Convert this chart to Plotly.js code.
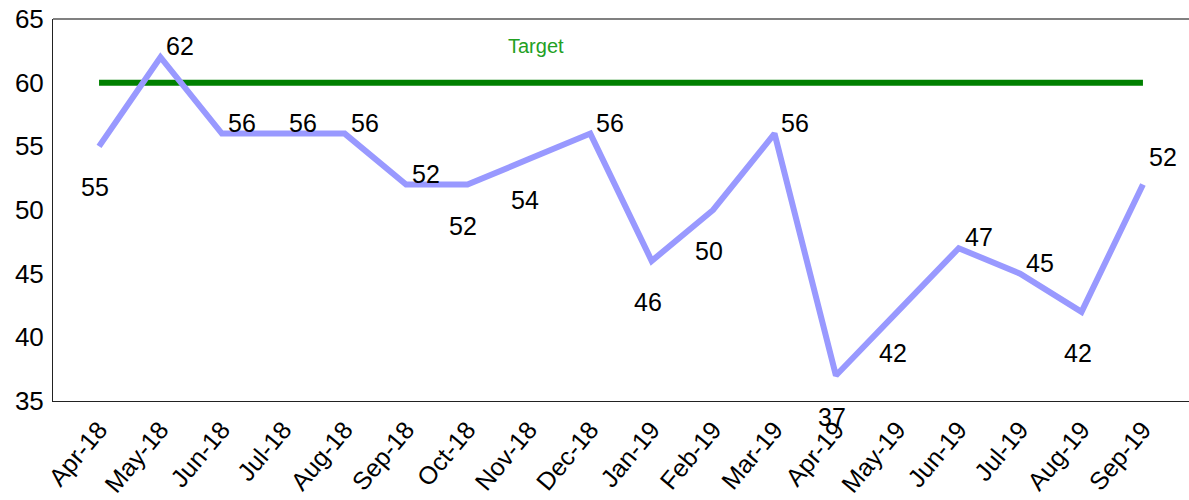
<!DOCTYPE html>
<html><head><meta charset="utf-8">
<script src="https://cdn.plot.ly/plotly-3.0.1.min.js"></script>
<style>html,body{margin:0;padding:0;background:#fff}#chart{width:1189px;height:500px}</style>
</head><body><div id="chart"></div>
<script>
const months = ['Apr-18','May-18','Jun-18','Jul-18','Aug-18','Sep-18','Oct-18','Nov-18','Dec-18','Jan-19','Feb-19','Mar-19','Apr-19','May-19','Jun-19','Jul-19','Aug-19','Sep-19'];
const scores = [55,62,56,56,56,52,52,54,56,46,50,56,37,42,47,45,42,52];
const target = [60,60,60,60,60,60,60,60,60,60,60,60,60,60,60,60,60,60];
const labelPos = ['b','a','a','a','a','a','b','b','a','b','b','a','b','b','a','a','b','a'];
const targetLabel = 'Target';

const font = 'Arial, "Liberation Sans", sans-serif';
const idx = months.map((_, i) => i);

const annotations = scores.map((v, i) => {
  const above = labelPos[i] === 'a';
  return {
    x: idx[i], y: v, xref: 'x', yref: 'y', text: String(v), showarrow: false,
    font: {family: font, size: 25, color: '#000'},
    xshift: above ? 20 : -4,
    yshift: above ? (i === 17 ? 28 : 11) : -41
  };
});
annotations.push({
  x: 7.12, y: 62.9, xref: 'x', yref: 'y', text: targetLabel, showarrow: false,
  font: {family: font, size: 20, color: '#22a022'}
});

const traces = [
  {x: idx, y: target, type: 'scatter', mode: 'lines', line: {color: '#008000', width: 6}, hoverinfo: 'skip'},
  {x: idx, y: scores, type: 'scatter', mode: 'lines', line: {color: '#9999FF', width: 6}, hoverinfo: 'skip'}
];

const layout = {
  width: 1189, height: 500,
  margin: {l: 53, r: 0, t: 19, b: 99},
  paper_bgcolor: '#fff', plot_bgcolor: '#fff',
  showlegend: false,
  font: {family: font, color: '#000'},
  xaxis: {
    range: [-0.75, 17.75], tickmode: 'array', tickvals: idx, ticktext: months,
    tickangle: -50, tickfont: {size: 25, family: font}, showgrid: false, zeroline: false,
    showline: true, linecolor: '#222', linewidth: 1, ticks: '', automargin: false,
    ticklabelstandoff: 3
  },
  yaxis: {
    range: [35, 65], dtick: 5, tickfont: {size: 26, family: font}, showgrid: false, zeroline: false,
    showline: true, linecolor: '#222', linewidth: 1, ticks: '', automargin: false,
    ticklabelstandoff: 3
  },
  shapes: [{type: 'line', xref: 'paper', yref: 'paper', x0: 0, x1: 1, y0: 1, y1: 1, line: {color: '#808080', width: 2}}],
  annotations: annotations
};

Plotly.newPlot('chart', traces, layout, {staticPlot: true, displayModeBar: false});
</script></body></html>
